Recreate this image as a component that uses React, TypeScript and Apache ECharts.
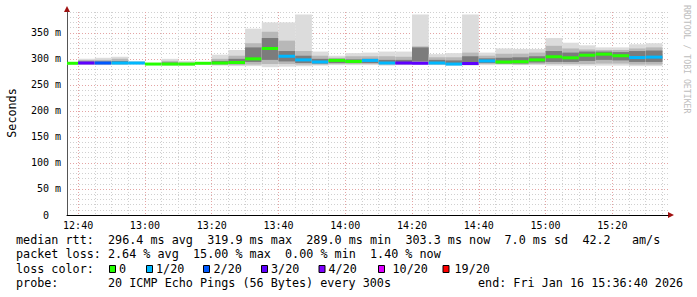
import React, { useEffect, useRef } from 'react';
import * as echarts from 'echarts';

// ---- data -------------------------------------------------------------
const viewStart = '12:36:40';
const viewEnd = '15:36:40';
const stepSeconds = 300;

const stepEnds = [
  '12:40', '12:45', '12:50', '12:55', '13:00', '13:05', '13:10', '13:15', '13:20',
  '13:25', '13:30', '13:35', '13:40', '13:45', '13:50', '13:55', '14:00', '14:05',
  '14:10', '14:15', '14:20', '14:25', '14:30', '14:35', '14:40', '14:45', '14:50',
  '14:55', '15:00', '15:05', '15:10', '15:15', '15:20', '15:25', '15:30', '15:35',
];
const medianMs = [
  291.5, 292, 292, 292, 292, 290, 290, 290, 291.5,
  292, 293, 300, 319.9, 305, 298, 294, 297, 295,
  297, 292, 292, 291.5, 292, 290, 291, 296, 294,
  294.5, 298, 304, 302, 307, 309, 306, 302.5, 303.3,
];
const lossOf20 = [
  0, 3, 2, 1, 1, 0, 0, 0, 0,
  0, 0, 0, 0, 1, 1, 1, 0, 0,
  1, 1, 3, 3, 1, 1, 3, 1, 0,
  0, 0, 0, 0, 0, 0, 0, 1, 1,
];
const smokeLow = [
  289, 288, 288, 288, 289, 288, 287, 287, 289,
  287, 286, 286, 284, 285, 286, 287, 288, 288,
  288, 287, 288, 288, 288, 287, 287, 288, 288,
  288, 288, 287, 287, 287, 287, 287, 286, 286,
];
const smokeHigh = [
  293, 300, 302, 304, 296, 292, 300, 296, 294,
  308, 317, 358, 370, 370, 385, 314, 306, 311,
  312, 314, 314, 385, 309, 311, 385, 312, 320,
  319, 319, 340, 331, 326, 322, 322, 328, 330,
];
const midLow = [
  290, 289, 289, 289, 290, 289, 288, 288, 290,
  288.5, 288, 289, 290, 290, 289, 289, 290, 290,
  290, 289, 289, 290, 289, 288, 289, 290, 290,
  289, 290, 290, 290, 290, 291, 291, 289, 289,
];
const midHigh = [
  293, 298, 298, 300, 294, 291, 296, 293, 293,
  300, 306, 330, 352, 335, 315, 306, 302, 305,
  305, 305, 304, 324, 303, 303, 312, 306, 310,
  310, 312, 325, 320, 318, 317, 317, 320, 322,
];
const coreLow = [
  290.5, 290, 290, 290, 291, 289.5, 289, 289, 290.5,
  290, 290, 294, 298, 295, 292, 291, 292, 292,
  292, 290, 290, 295, 290, 289, 290, 292, 291,
  291, 293, 294, 294, 296, 298, 297, 294, 294,
];
const coreHigh = [
  292.5, 295, 295, 296, 293, 291, 293, 292, 292.5,
  296, 300, 322, 340, 315, 306, 300, 300, 299,
  300, 298, 298, 322, 298, 297, 305, 301, 302,
  303, 305, 315, 312, 314, 314, 313, 315, 316,
];

const lossLabels = ['0', '1/20', '2/20', '3/20', '4/20', '10/20', '19/20'];
const lossThresholds = [0, 1, 2, 3, 4, 10, 19];
const lossColors = ['#26ff00', '#00b8ff', '#0059ff', '#5e00ff', '#7e00ff', '#dd00ff', '#ff0000'];

const statLines = [
  'median rtt:  296.4 ms avg  319.9 ms max  289.0 ms min  303.3 ms now  7.0 ms sd  42.2   am/s',
  'packet loss: 2.64 % avg  15.00 % max  0.00 % min  1.40 % now',
];
const lossColorTitle = 'loss color:';
const probeTitle = 'probe:';
const probeText = '20 ICMP Echo Pings (56 Bytes) every 300s';
const endText = 'end: Fri Jan 16 15:36:40 2026';
const yTitle = 'Seconds';
const watermark = 'RRDTOOL / TOBI OETIKER';

// ---- layout / style ---------------------------------------------------
const MONO = '"DejaVu Sans Mono", "Liberation Mono", monospace';
const CHAR_W = 7.08;
const TEXT_X = 16;
const LINE_Y = [240, 254.4, 268.8, 283.2];
const GRID_GRAY = '#d0d0d0';
const GRID_RED = '#e4a4a4';

const toSec = (s: string) => {
  const p = s.split(':').map(Number);
  return p[0] * 3600 + p[1] * 60 + (p[2] || 0);
};
const pad2 = (n: number) => String(n).padStart(2, '0');
const fmtTime = (v: number) => `${pad2(Math.floor(v / 3600))}:${pad2(Math.floor((v % 3600) / 60))}`;
const lossColor = (n: number) => {
  let c = lossColors[0];
  lossThresholds.forEach((t, i) => {
    if (n >= t) c = lossColors[i];
  });
  return c;
};

// split a monospace line into runs separated by 2+ spaces, placed by column
const lineTexts = (line: string, y: number) => {
  const out: any[] = [];
  const re = /\S+(?: \S+)*/g;
  let m: RegExpExecArray | null;
  while ((m = re.exec(line))) {
    out.push({
      type: 'text',
      x: TEXT_X + m.index * CHAR_W,
      y,
      style: { text: m[0], font: `11.75px ${MONO}`, fill: '#000', textVerticalAlign: 'middle' },
      silent: true,
    });
  }
  return out;
};

const swatchX = [109, 146, 203, 261, 318.5, 378, 442.5];
const swatchTextX = [119, 156, 213.5, 271, 328.5, 392.5, 454.5];

export default function App() {
  const ref = useRef<HTMLDivElement>(null);

  useEffect(() => {
    if (!ref.current) return;
    const chart = echarts.init(ref.current, undefined, { renderer: 'svg' });
    const xMin = toSec(viewStart);
    const xMax = toSec(viewEnd);

    // x split line colours: ticks every 100 s from xMin (multiple of 100)
    const xColors: string[] = [];
    for (let k = 0; k < 12; k++) {
      const v = xMin + k * 100;
      if (v % 1200 === 0) xColors.push(GRID_RED);
      else if (v % 300 === 0) xColors.push(GRID_GRAY);
      else xColors.push('rgba(0,0,0,0)');
    }
    const yColors = [GRID_RED, GRID_GRAY, GRID_GRAY, GRID_GRAY, GRID_GRAY];

    const data = stepEnds.map((s, i) => [
      toSec(s), medianMs[i], lossOf20[i], smokeLow[i], smokeHigh[i],
      midLow[i], midHigh[i], coreLow[i], coreHigh[i],
    ]);

    const graphics: any[] = [];
    statLines.forEach((l, i) => graphics.push(...lineTexts(l, LINE_Y[i])));
    graphics.push(...lineTexts(lossColorTitle, LINE_Y[2]));
    lossLabels.forEach((lab, i) => {
      graphics.push({
        type: 'rect',
        shape: { x: swatchX[i] + 0.5, y: 265.5, width: 6, height: 7 },
        style: { fill: lossColors[i], stroke: '#000', lineWidth: 1 },
        silent: true,
      });
      graphics.push({
        type: 'text',
        x: swatchTextX[i],
        y: LINE_Y[2],
        style: { text: lab, font: `11.75px ${MONO}`, fill: '#000', textVerticalAlign: 'middle' },
        silent: true,
      });
    });
    graphics.push(...lineTexts(probeTitle, LINE_Y[3]));
    graphics.push({
      type: 'text', x: TEXT_X + 13 * CHAR_W, y: LINE_Y[3],
      style: { text: probeText, font: `11.75px ${MONO}`, fill: '#000', textVerticalAlign: 'middle' },
      silent: true,
    });
    graphics.push({
      type: 'text', x: 478, y: LINE_Y[3],
      style: { text: endText, font: `11.75px ${MONO}`, fill: '#000', textVerticalAlign: 'middle' },
      silent: true,
    });
    // y axis title
    graphics.push({
      type: 'text', x: 11.5, y: 113, rotation: Math.PI / 2,
      style: { text: yTitle, font: `11.75px ${MONO}`, fill: '#000', textAlign: 'center', textVerticalAlign: 'middle' },
      silent: true,
    });
    graphics.push({
      type: 'text', x: 687, y: 5, rotation: -Math.PI / 2,
      style: { text: watermark, font: `8.2px ${MONO}`, fill: '#bdbdbd', textAlign: 'left', textVerticalAlign: 'middle' },
      silent: true,
    });
    // axis arrows
    graphics.push({
      type: 'polygon',
      shape: { points: [[64, 12], [70, 12], [67, 6]] },
      style: { fill: '#a01010' },
      silent: true,
    });
    graphics.push({
      type: 'polygon',
      shape: { points: [[668, 212], [668, 218], [674, 215]] },
      style: { fill: '#a01010' },
      silent: true,
    });

    chart.setOption({
      animation: false,
      backgroundColor: '#ffffff',
      grid: { left: 67, top: 12, width: 601, height: 203, containLabel: false, outerBoundsMode: 'none' },
      xAxis: {
        type: 'value',
        min: xMin,
        max: xMax,
        interval: 100,
        axisLine: { show: true, lineStyle: { color: '#000', width: 1 } },
        axisTick: { show: false },
        axisLabel: {
          formatter: (v: number) => (v % 1200 === 0 ? fmtTime(v) : ''),
          fontFamily: MONO,
          fontSize: 10,
          color: '#000',
          margin: 5,
          showMinLabel: false,
          showMaxLabel: false,
        },
        splitLine: { show: true, lineStyle: { color: xColors, type: [1, 2], width: 1 } },
      },
      yAxis: {
        type: 'value',
        min: 0,
        max: 390,
        interval: 10,
        axisLine: { show: true, lineStyle: { color: '#555', width: 1 } },
        axisTick: { show: false },
        axisLabel: {
          formatter: (v: number) => (v % 50 === 0 ? (v === 0 ? '0\u00a0\u00a0' : `${v} m`) : ''),
          fontFamily: MONO,
          fontSize: 10,
          color: '#000',
          margin: 6,
        },
        splitLine: { show: true, lineStyle: { color: yColors, type: [1, 2], width: 1 } },
      },
      series: [
        {
          type: 'custom',
          clip: true,
          encode: { x: 0, y: 1 },
          data,
          renderItem: (params: any, api: any) => {
            const cs = params.coordSys;
            const t = api.value(0);
            const x0 = Math.max(api.coord([t - stepSeconds, 0])[0], cs.x);
            const x1 = Math.min(api.coord([t, 0])[0], cs.x + cs.width);
            const band = (lo: number, hi: number, fill: string) => {
              const yHi = Math.max(api.coord([t, hi])[1], cs.y);
              const yLo = api.coord([t, lo])[1];
              return {
                type: 'rect',
                shape: { x: x0, y: yHi, width: x1 - x0, height: yLo - yHi },
                style: { fill },
              };
            };
            const ym = api.coord([t, api.value(1)])[1];
            return {
              type: 'group',
              children: [
                band(api.value(3), api.value(4), '#dcdcdc'),
                band(api.value(5), api.value(6), '#b8b8b8'),
                band(api.value(7), api.value(8), '#7c7c7c'),
                {
                  type: 'rect',
                  shape: { x: x0, y: ym - 1.5, width: x1 - x0, height: 3 },
                  style: { fill: lossColor(api.value(2)) },
                },
              ],
            };
          },
        },
      ],
      graphic: graphics,
    });
    return () => chart.dispose();
  }, []);

  return (
    <div
      ref={ref}
      style={{ position: 'fixed', left: 0, top: 0, width: 697, height: 297, background: '#fff' }}
    />
  );
}
